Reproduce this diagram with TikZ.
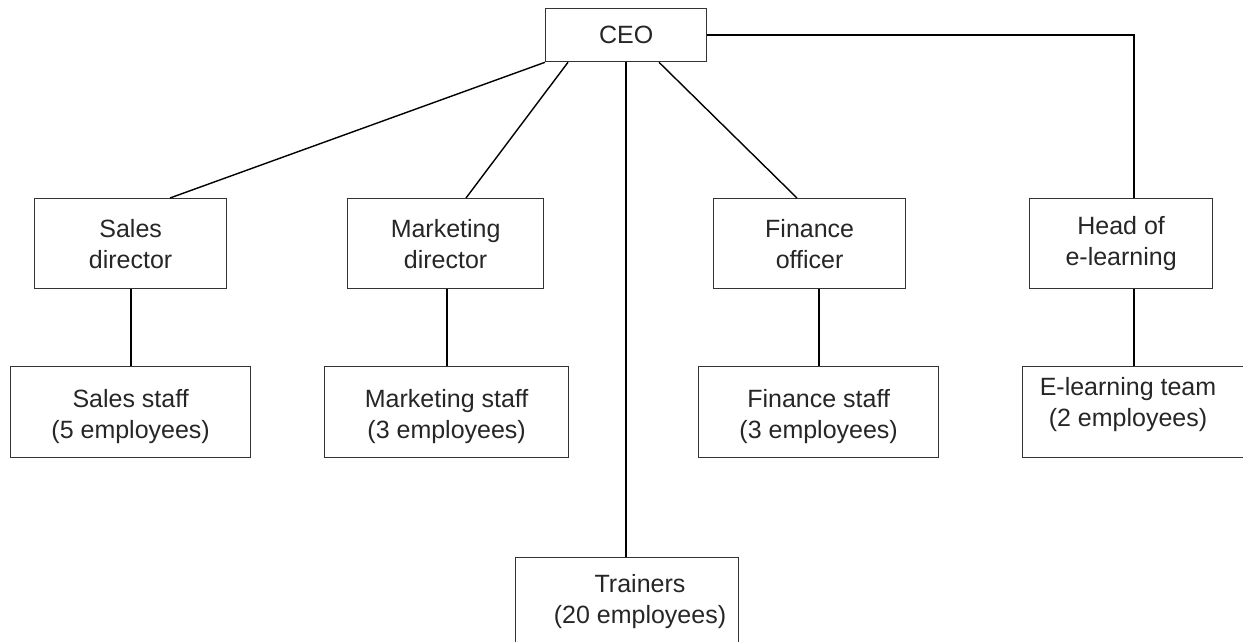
\documentclass[tikz,border=0pt]{standalone}
\usepackage{fontspec}
\setmainfont{Liberation Sans}
\usetikzlibrary{calc}
\begin{document}
\begin{tikzpicture}[x=1pt,y=-1pt,
  box/.style={draw=black!80, line width=1.3pt, anchor=north west, inner sep=0pt},
  lbl/.style={align=center, font=\fontsize{25}{31}\selectfont, text=black!85, inner sep=0pt},
  link/.style={line width=2pt, black},
  diag/.style={line width=1.4pt, black}]
\useasboundingbox (0,0) rectangle (1243,642);
\clip (0,0) rectangle (1243,642);

% boxes
\node (ceo) [box, minimum width=161pt, minimum height=53pt] at (545,8) {};
\node (sd)  [box, minimum width=192pt, minimum height=90pt] at (34,198) {};
\node (md)  [box, minimum width=196pt, minimum height=90pt] at (347,198) {};
\node (fo)  [box, minimum width=192pt, minimum height=90pt] at (713,198) {};
\node (hel) [box, minimum width=183pt, minimum height=90pt] at (1029,198) {};
\node (ss)  [box, minimum width=240pt, minimum height=91pt] at (10,366) {};
\node (ms)  [box, minimum width=244pt, minimum height=91pt] at (324,366) {};
\node (fs)  [box, minimum width=240pt, minimum height=91pt] at (698,366) {};
\node (elt) [box, minimum width=240pt, minimum height=91pt] at (1022,366) {};
\node (tr)  [box, minimum width=223pt, minimum height=110pt] at (515,557) {};

% labels
\node (ceoT) [lbl] at (ceo.center) {CEO};
\node (sdT)  [lbl] at (sd.center) {Sales\\director};
\node (mdT)  [lbl] at (md.center) {Marketing\\director};
\node (foT)  [lbl] at (fo.center) {Finance\\officer};
\node (helT) [lbl] at (hel.center) {Head of\\e-learning};
\node (ssT)  [lbl] at ([yshift=-4pt]ss.center) {Sales staff\\(5 employees)};
\node (msT)  [lbl] at ([yshift=-4pt]ms.center) {Marketing staff\\(3 employees)};
\node (fsT)  [lbl] at ([yshift=-4pt]fs.center) {Finance staff\\(3 employees)};
\node (eltT) [lbl] at (1128,405) {E-learning team\\(2 employees)};
\node (trT)  [lbl] at (640,602) {Trainers\\(20 employees)};

% connectors
\coordinate (elx) at (1134,0);
\draw[diag] (ceo.south west) -- ([xshift=136pt]sd.north west);
\draw[diag] ([xshift=23pt]ceo.south west) -- ([xshift=119pt]md.north west);
\draw[link] (ceo.south) -- (ceo.south |- tr.north);
\draw[diag] ([xshift=114pt]ceo.south west) -- ([xshift=84pt]fo.north west);
\draw[link] (ceo.east) -| (hel.north -| elx);
\draw[link] (sd.south) -- (ss.north);
\draw[link] (md.south -| ms.north) -- (ms.north);
\draw[link] (fo.south -| fs.north) -- (fs.north);
\draw[link] (hel.south -| elx) -- (elt.north -| elx);
\end{tikzpicture}
\end{document}
